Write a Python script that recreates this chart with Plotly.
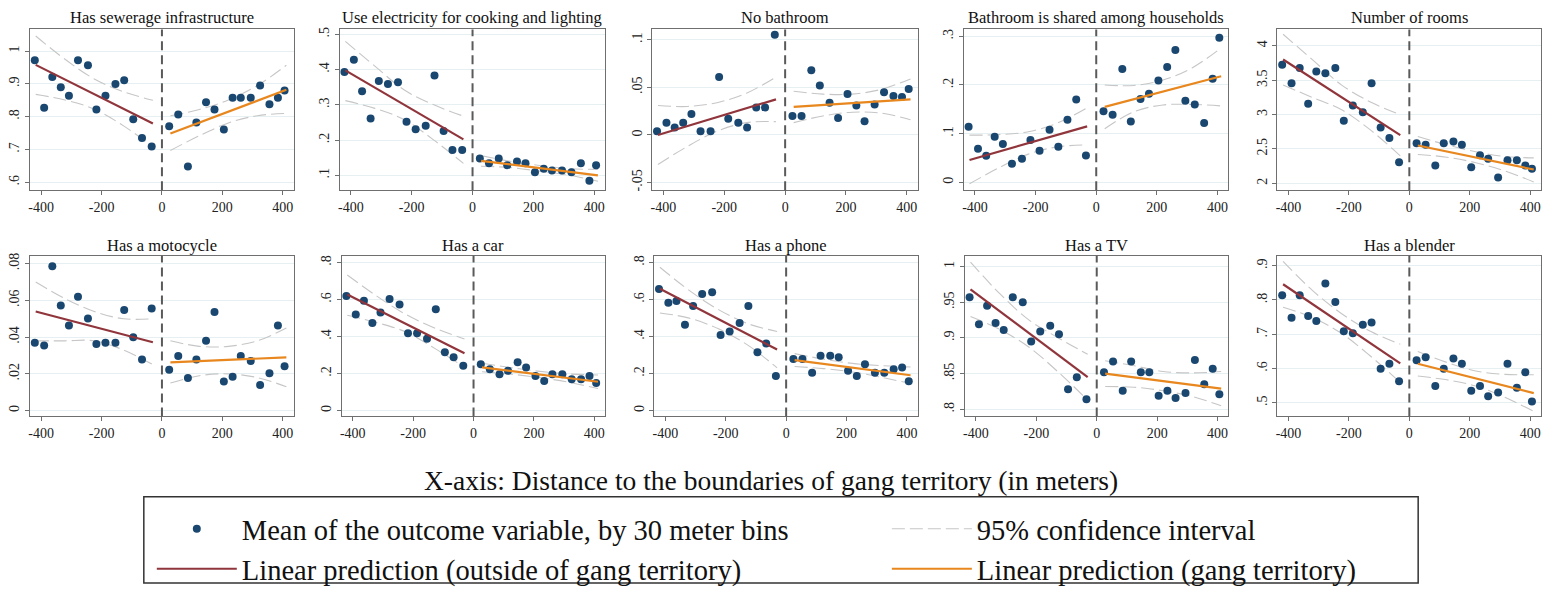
import plotly.graph_objects as go

W, H = 1547, 595
FONT = "'Liberation Serif', 'DejaVu Serif', 'Times New Roman', Times, serif"

# ---------------- data ----------------
bins_out = [-421, -390, -363, -335, -308, -278, -245, -217, -187, -154, -125, -95, -66, -34]
bins_in = [24, 54, 86, 114, 146, 174, 205, 234, 261, 294, 325, 356, 384, 406]
fit_x_out = [-418, -30]
fit_x_in = [28, 412]
ci_x_out = [-418, -321, -224, -127, -30]
ci_x_in = [28, 124, 220, 316, 412]
x_tick_vals = [-400, -200, 0, 200, 400]
x_tick_text = ["-400", "-200", "0", "200", "400"]

titles = ["Has sewerage infrastructure", "Use electricity for cooking and lighting",
          "No bathroom", "Bathroom is shared among households", "Number of rooms",
          "Has a motocycle", "Has a car", "Has a phone", "Has a TV", "Has a blender"]

# 1 sewerage
sewer_pts_out = [0.972, 0.827, 0.921, 0.890, 0.864, 0.972, 0.957, 0.822, 0.864, 0.900, 0.911, 0.792, 0.735, 0.709]
sewer_pts_in = [0.771, 0.807, 0.648, 0.782, 0.844, 0.822, 0.761, 0.858, 0.858, 0.858, 0.895, 0.838, 0.858, 0.880]
sewer_fit_out = [0.958, 0.779]
sewer_fit_in = [0.749, 0.882]
sewer_ci_out_hi = [1.046, 0.975, 0.915, 0.876, 0.850]
sewer_ci_out_lo = [0.868, 0.851, 0.823, 0.772, 0.708]
sewer_ci_in_hi = [0.803, 0.822, 0.851, 0.895, 0.957]
sewer_ci_in_lo = [0.697, 0.742, 0.781, 0.803, 0.810]
sewer_yticks = [0.6, 0.7, 0.8, 0.9, 1.0]
sewer_ytext = [".6", ".7", ".8", ".9", "1"]

# 2 electricity
elec_pts_out = [0.393, 0.428, 0.339, 0.261, 0.368, 0.359, 0.364, 0.252, 0.231, 0.241, 0.383, 0.226, 0.172, 0.172]
elec_pts_in = [0.148, 0.134, 0.148, 0.129, 0.139, 0.134, 0.109, 0.119, 0.114, 0.114, 0.109, 0.134, 0.085, 0.129]
elec_fit_out = [0.398, 0.202]
elec_fit_in = [0.141, 0.100]
elec_ci_out_hi = [0.480, 0.410, 0.342, 0.300, 0.268]
elec_ci_out_lo = [0.312, 0.290, 0.258, 0.200, 0.134]
elec_ci_in_hi = [0.156, 0.140, 0.128, 0.119, 0.117]
elec_ci_in_lo = [0.126, 0.122, 0.112, 0.101, 0.083]
elec_yticks = [0.1, 0.2, 0.3, 0.4, 0.5]
elec_ytext = [".1", ".2", ".3", ".4", ".5"]

# 3 no bathroom
nobath_pts_out = [0.004, 0.013, 0.008, 0.013, 0.022, 0.004, 0.004, 0.061, 0.017, 0.013, 0.008, 0.029, 0.029, 0.1055]
nobath_pts_in = [0.020, 0.020, 0.068, 0.052, 0.034, 0.018, 0.043, 0.031, 0.0145, 0.032, 0.045, 0.041, 0.040, 0.0485]
nobath_fit_out = [0.000, 0.0375]
nobath_fit_in = [0.0295, 0.0375]
nobath_ci_out_hi = [0.031, 0.030, 0.034, 0.044, 0.061]
nobath_ci_out_lo = [-0.031, -0.012, 0.004, 0.013, 0.014]
nobath_ci_in_hi = [0.046, 0.043, 0.043, 0.048, 0.059]
nobath_ci_in_lo = [0.013, 0.020, 0.024, 0.023, 0.016]
nobath_yticks = [-0.05, 0.0, 0.05, 0.1]
nobath_ytext = ["-.05", "0", ".05", ".1"]

# 4 shared bathroom
shared_pts_out = [0.114, 0.069, 0.0545, 0.0935, 0.079, 0.038, 0.0485, 0.087, 0.065, 0.108, 0.073, 0.1285, 0.170, 0.055]
shared_pts_in = [0.146, 0.139, 0.233, 0.125, 0.171, 0.182, 0.209, 0.237, 0.272, 0.1675, 0.160, 0.122, 0.213, 0.297]
shared_fit_out = [0.046, 0.115]
shared_fit_in = [0.155, 0.218]
shared_ci_out_hi = [0.097, 0.098, 0.104, 0.122, 0.153]
shared_ci_out_lo = [-0.003, 0.030, 0.058, 0.073, 0.077]
shared_ci_in_hi = [0.200, 0.199, 0.210, 0.235, 0.276]
shared_ci_in_lo = [0.110, 0.145, 0.159, 0.160, 0.157]
shared_yticks = [0.0, 0.1, 0.2, 0.3]
shared_ytext = ["0", ".1", ".2", ".3"]

# 5 rooms
rooms_pts_out = [3.727, 3.455, 3.679, 3.158, 3.627, 3.603, 3.679, 2.909, 3.134, 3.033, 3.455, 2.813, 2.660, 2.306]
rooms_pts_in = [2.584, 2.560, 2.258, 2.584, 2.608, 2.560, 2.234, 2.407, 2.359, 2.086, 2.335, 2.335, 2.258, 2.211]
rooms_fit_out = [3.803, 2.702]
rooms_fit_in = [2.55, 2.20]
rooms_ci_out_hi = [4.17, 3.80, 3.43, 3.18, 3.00]
rooms_ci_out_lo = [3.43, 3.25, 3.07, 2.77, 2.40]
rooms_ci_in_hi = [2.68, 2.56, 2.46, 2.39, 2.37]
rooms_ci_in_lo = [2.42, 2.38, 2.30, 2.18, 2.02]
rooms_yticks = [2.0, 2.5, 3.0, 3.5, 4.0]
rooms_ytext = ["2", "2.5", "3", "3.5", "4"]

# 6 motorcycle
moto_pts_out = [0.0370, 0.0354, 0.0786, 0.0572, 0.0464, 0.0620, 0.0501, 0.0363, 0.0370, 0.0370, 0.0548, 0.0400, 0.0279, 0.0556]
moto_pts_in = [0.0222, 0.0297, 0.0178, 0.0279, 0.0380, 0.0537, 0.0158, 0.0185, 0.0297, 0.0270, 0.0139, 0.0204, 0.0464, 0.0242]
moto_fit_out = [0.054, 0.0372]
moto_fit_in = [0.0263, 0.029]
moto_ci_out_hi = [0.070, 0.061, 0.054, 0.050, 0.050]
moto_ci_out_lo = [0.038, 0.038, 0.038, 0.033, 0.025]
moto_ci_in_hi = [0.038, 0.035, 0.035, 0.038, 0.045]
moto_ci_in_lo = [0.015, 0.019, 0.020, 0.018, 0.013]
moto_yticks = [0.0, 0.02, 0.04, 0.06, 0.08]
moto_ytext = ["0", ".02", ".04", ".06", ".08"]

# 7 car
car_pts_out = [0.620, 0.519, 0.594, 0.473, 0.530, 0.603, 0.574, 0.418, 0.418, 0.389, 0.548, 0.316, 0.288, 0.242]
car_pts_in = [0.251, 0.224, 0.196, 0.215, 0.261, 0.233, 0.187, 0.160, 0.196, 0.196, 0.169, 0.169, 0.187, 0.149]
car_fit_out = [0.628, 0.310]
car_fit_in = [0.234, 0.156]
car_ci_out_hi = [0.733, 0.620, 0.520, 0.445, 0.387]
car_ci_out_lo = [0.515, 0.476, 0.425, 0.335, 0.234]
car_ci_in_hi = [0.256, 0.232, 0.212, 0.198, 0.192]
car_ci_in_lo = [0.210, 0.197, 0.178, 0.153, 0.119]
car_yticks = [0.0, 0.2, 0.4, 0.6, 0.8]
car_ytext = ["0", ".2", ".4", ".6", ".8"]

# 8 phone
phone_pts_out = [0.658, 0.583, 0.592, 0.464, 0.565, 0.631, 0.640, 0.409, 0.427, 0.473, 0.565, 0.316, 0.363, 0.187]
phone_pts_in = [0.279, 0.279, 0.204, 0.297, 0.297, 0.288, 0.215, 0.187, 0.251, 0.204, 0.204, 0.224, 0.233, 0.158]
phone_fit_out = [0.659, 0.330]
phone_fit_in = [0.273, 0.191]
phone_ci_out_hi = [0.775, 0.650, 0.546, 0.470, 0.428]
phone_ci_out_lo = [0.528, 0.500, 0.442, 0.354, 0.231]
phone_ci_in_hi = [0.308, 0.278, 0.255, 0.243, 0.236]
phone_ci_in_lo = [0.238, 0.227, 0.209, 0.180, 0.146]
phone_yticks = [0.0, 0.2, 0.4, 0.6, 0.8]
phone_ytext = ["0", ".2", ".4", ".6", ".8"]

# 9 TV
tv_pts_out = [0.957, 0.919, 0.945, 0.921, 0.911, 0.957, 0.950, 0.895, 0.909, 0.917, 0.905, 0.828, 0.845, 0.814]
tv_pts_in = [0.852, 0.867, 0.826, 0.867, 0.852, 0.852, 0.819, 0.826, 0.816, 0.823, 0.869, 0.835, 0.857, 0.821]
tv_fit_out = [0.968, 0.845]
tv_fit_in = [0.850, 0.829]
tv_ci_out_hi = [1.006, 0.962, 0.925, 0.900, 0.877]
tv_ci_out_lo = [0.930, 0.912, 0.887, 0.852, 0.813]
tv_ci_in_hi = [0.868, 0.861, 0.853, 0.851, 0.853]
tv_ci_in_lo = [0.832, 0.831, 0.826, 0.818, 0.805]
tv_yticks = [0.8, 0.85, 0.9, 0.95, 1.0]
tv_ytext = [".8", ".85", ".9", ".95", "1"]

# 10 blender
blender_pts_out = [0.814, 0.748, 0.814, 0.753, 0.739, 0.848, 0.794, 0.709, 0.703, 0.728, 0.734, 0.599, 0.614, 0.563]
blender_pts_in = [0.624, 0.633, 0.549, 0.599, 0.629, 0.614, 0.535, 0.549, 0.519, 0.530, 0.614, 0.544, 0.589, 0.504]
blender_fit_out = [0.846, 0.615]
blender_fit_in = [0.614, 0.528]
blender_ci_out_hi = [0.913, 0.828, 0.760, 0.708, 0.671]
blender_ci_out_lo = [0.779, 0.749, 0.702, 0.635, 0.559]
blender_ci_in_hi = [0.650, 0.618, 0.593, 0.583, 0.582]
blender_ci_in_lo = [0.578, 0.567, 0.549, 0.516, 0.475]
blender_yticks = [0.5, 0.6, 0.7, 0.8, 0.9]
blender_ytext = [".5", ".6", ".7", ".8", ".9"]

# ---------------- panel table ----------------
panels = [
    (sewer_pts_out, sewer_pts_in, sewer_fit_out, sewer_fit_in, sewer_ci_out_hi, sewer_ci_out_lo, sewer_ci_in_hi, sewer_ci_in_lo, sewer_yticks, sewer_ytext, [0.576, 1.066]),
    (elec_pts_out, elec_pts_in, elec_fit_out, elec_fit_in, elec_ci_out_hi, elec_ci_out_lo, elec_ci_in_hi, elec_ci_in_lo, elec_yticks, elec_ytext, [0.058, 0.514]),
    (nobath_pts_out, nobath_pts_in, nobath_fit_out, nobath_fit_in, nobath_ci_out_hi, nobath_ci_out_lo, nobath_ci_in_hi, nobath_ci_in_lo, nobath_yticks, nobath_ytext, [-0.058, 0.111]),
    (shared_pts_out, shared_pts_in, shared_fit_out, shared_fit_in, shared_ci_out_hi, shared_ci_out_lo, shared_ci_in_hi, shared_ci_in_lo, shared_yticks, shared_ytext, [-0.016, 0.314]),
    (rooms_pts_out, rooms_pts_in, rooms_fit_out, rooms_fit_in, rooms_ci_out_hi, rooms_ci_out_lo, rooms_ci_in_hi, rooms_ci_in_lo, rooms_yticks, rooms_ytext, [1.9, 4.24]),
    (moto_pts_out, moto_pts_in, moto_fit_out, moto_fit_in, moto_ci_out_hi, moto_ci_out_lo, moto_ci_in_hi, moto_ci_in_lo, moto_yticks, moto_ytext, [-0.0032, 0.0843]),
    (car_pts_out, car_pts_in, car_fit_out, car_fit_in, car_ci_out_hi, car_ci_out_lo, car_ci_in_hi, car_ci_in_lo, car_yticks, car_ytext, [-0.032, 0.837]),
    (phone_pts_out, phone_pts_in, phone_fit_out, phone_fit_in, phone_ci_out_hi, phone_ci_out_lo, phone_ci_in_hi, phone_ci_in_lo, phone_yticks, phone_ytext, [-0.032, 0.837]),
    (tv_pts_out, tv_pts_in, tv_fit_out, tv_fit_in, tv_ci_out_hi, tv_ci_out_lo, tv_ci_in_hi, tv_ci_in_lo, tv_yticks, tv_ytext, [0.790, 1.015]),
    (blender_pts_out, blender_pts_in, blender_fit_out, blender_fit_in, blender_ci_out_hi, blender_ci_out_lo, blender_ci_in_hi, blender_ci_in_lo, blender_yticks, blender_ytext, [0.46, 0.929]),
]

# ---------------- layout geometry (px) ----------------
col_px = [[(28, 292), (338, 604), (651, 917), (963, 1228), (1277, 1541)],
          [(28, 292), (340, 604), (653, 917), (964, 1228), (1277, 1541)]]
row_px = [(27, 191), (258, 422)]
title_y_px = [15, 248]

NAVY = "#1a476f"
MAROON = "#90353b"
ORANGE = "#e8871e"
CIGRAY = "#c6c6c6"
FRAME = "#6f6f6f"
GRID = "#e6eff1"

fig = go.Figure()
layout = dict(width=W, height=H, margin=dict(l=0, r=0, t=0, b=0),
              paper_bgcolor="white", plot_bgcolor="white", showlegend=True,
              font=dict(family=FONT))
shapes = []
annotations = []

for i, p in enumerate(panels):
    (pts_out, pts_in, fit_out, fit_in, ci_out_hi, ci_out_lo,
     ci_in_hi, ci_in_lo, yticks, ytext, yrange) = p
    s = "" if i == 0 else str(i + 1)
    xa, ya = "x" + s, "y" + s
    r, c = divmod(i, 5)
    L, R = col_px[r][c]
    T, B = row_px[r]
    first = i == 0

    ci_style = dict(color=CIGRAY, width=1.1, dash="13px,5px", shape="spline")
    for cx, cy, show in [(ci_x_out, ci_out_hi, first), (ci_x_out, ci_out_lo, False),
                         (ci_x_in, ci_in_hi, False), (ci_x_in, ci_in_lo, False)]:
        fig.add_trace(go.Scatter(x=cx, y=cy, mode="lines", line=ci_style,
                                 name="95% confidence interval",
                                 showlegend=show, legend="legend2", legendrank=1,
                                 xaxis=xa, yaxis=ya, hoverinfo="skip"))

    fig.add_trace(go.Scatter(x=bins_out + bins_in, y=pts_out + pts_in, mode="markers",
                             marker=dict(color=NAVY, size=8),
                             name="Mean of the outcome variable, by 30 meter bins",
                             showlegend=first, legend="legend", legendrank=1,
                             xaxis=xa, yaxis=ya))
    fig.add_trace(go.Scatter(x=fit_x_out, y=fit_out, mode="lines",
                             line=dict(color=MAROON, width=2.2),
                             name="Linear prediction (outside of gang territory)",
                             showlegend=first, legend="legend", legendrank=2,
                             xaxis=xa, yaxis=ya))
    fig.add_trace(go.Scatter(x=fit_x_in, y=fit_in, mode="lines",
                             line=dict(color=ORANGE, width=2.2),
                             name="Linear prediction (gang territory)",
                             showlegend=first, legend="legend2", legendrank=2,
                             xaxis=xa, yaxis=ya))

    layout["xaxis" + s] = dict(domain=[L / W, R / W], anchor=ya, range=[-437, 436],
                               tickvals=x_tick_vals, ticktext=x_tick_text,
                               ticks="outside", ticklen=4, tickcolor=FRAME,
                               showline=True, linecolor=FRAME, linewidth=1, mirror=True,
                               showgrid=False, zeroline=False,
                               tickfont=dict(family=FONT, size=14, color="#222"))
    layout["yaxis" + s] = dict(domain=[1 - B / H, 1 - T / H], anchor=xa, range=yrange,
                               tickvals=yticks, ticktext=ytext, tickangle=-90,
                               ticks="outside", ticklen=4, tickcolor=FRAME,
                               showline=True, linecolor=FRAME, linewidth=1, mirror=True,
                               showgrid=True, gridcolor=GRID, gridwidth=1, zeroline=False,
                               tickfont=dict(family=FONT, size=14, color="#222"))
    shapes.append(dict(type="line", xref=xa, yref=ya + " domain", x0=0, x1=0, y0=0, y1=1,
                       line=dict(color="#5a5a5a", width=2, dash="9px,5px"), layer="above"))
    annotations.append(dict(text=titles[i], x=(L + R) / 2 / W, y=1 - title_y_px[r] / H,
                            xref="paper", yref="paper", showarrow=False,
                            xanchor="center", yanchor="middle",
                            font=dict(family=FONT, size=16.5, color="#111")))

annotations.append(dict(text="X-axis: Distance to the boundaries of gang territory (in meters)",
                        x=770 / W, y=1 - 487 / H, xref="paper", yref="paper", showarrow=False,
                        xanchor="center", yanchor="middle",
                        font=dict(family=FONT, size=27.5, color="#111")))

shapes.append(dict(type="rect", xref="paper", yref="paper",
                   x0=142 / W, x1=1418 / W, y0=1 - 592 / H, y1=1 - 504 / H,
                   line=dict(color="#333", width=1.5), fillcolor="rgba(0,0,0,0)", layer="below"))

leg_common = dict(xanchor="left", yanchor="top", orientation="v",
                  font=dict(family=FONT, size=28.5, color="#111"),
                  bgcolor="rgba(0,0,0,0)", borderwidth=0, itemwidth=80,
                  tracegroupgap=0, traceorder="normal")
layout["legend"] = dict(x=150 / W, y=1 - 511 / H, **leg_common)
layout["legend2"] = dict(x=886 / W, y=1 - 511 / H, **leg_common)
layout["shapes"] = shapes
layout["annotations"] = annotations

fig.update_layout(**layout)
fig.write_html("out.html")
